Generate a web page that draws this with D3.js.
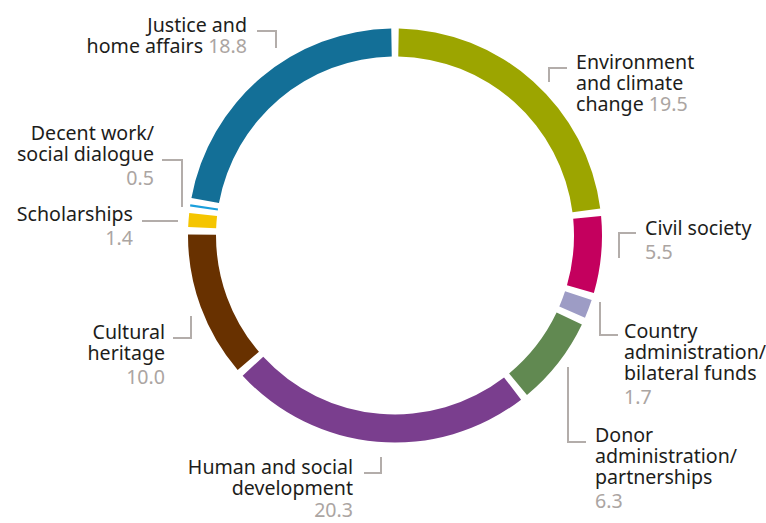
<!DOCTYPE html>
<html>
<head>
<meta charset="utf-8">
<script src="https://cdn.jsdelivr.net/npm/d3@7"></script>
<style>
  html, body { margin: 0; padding: 0; background: #fff; }
  svg { display: block; }
  text { font-family: "Noto Sans", "Open Sans", sans-serif; }
</style>
</head>
<body>
<svg id="chart" width="766" height="523"></svg>
<script>
// ---- data ----
const categories = [
  "Environment and climate change",
  "Civil society",
  "Country administration/bilateral funds",
  "Donor administration/partnerships",
  "Human and social development",
  "Cultural heritage",
  "Scholarships",
  "Decent work/social dialogue",
  "Justice and home affairs"
];
const values = [19.5, 5.5, 1.7, 6.3, 20.3, 10.0, 1.4, 0.5, 18.8];
const valueLabels = ["19.5", "5.5", "1.7", "6.3", "20.3", "10.0", "1.4", "0.5", "18.8"];
const colors = ["#9ca500", "#c4005e", "#9d9cc5", "#618951", "#7a3e8e", "#683100", "#f5c500", "#1a9fdc", "#136f97"];

// ---- label layout (annotation styling) ----
const labelLayout = [
  { lines: ["Environment", "and climate", "change"], inline: true, anchor: "start", x: 576, y: 69,
    bracket: [[549, 82], [549, 68], [567, 68]] },
  { lines: ["Civil society"], inline: false, anchor: "start", x: 645, y: 235,
    bracket: [[619, 258], [619, 233], [636, 233]] },
  { lines: ["Country", "administration/", "bilateral funds"], inline: false, anchor: "start", x: 624, y: 338,
    bracket: [[600, 302], [600, 335], [618, 335]] },
  { lines: ["Donor", "administration/", "partnerships"], inline: false, anchor: "start", x: 595, y: 442,
    bracket: [[568, 367], [568, 442], [586, 442]] },
  { lines: ["Human and social", "development"], inline: false, anchor: "end", x: 353, y: 474, valueGap: 0.5,
    bracket: [[381, 457], [381, 473], [364, 473]] },
  { lines: ["Cultural", "heritage"], inline: false, anchor: "end", x: 165, y: 339,
    bracket: [[191, 316], [191, 338], [173, 338]] },
  { lines: ["Scholarships"], inline: false, anchor: "end", x: 133, y: 221,
    bracket: [[142, 221], [178, 221]] },
  { lines: ["Decent work/", "social dialogue"], inline: false, anchor: "end", x: 154, y: 140,
    bracket: [[162, 160], [182, 160], [182, 207]] },
  { lines: ["Justice and", "home affairs"], inline: true, anchor: "end", x: 247, y: 32,
    bracket: [[257, 31], [276, 31], [276, 48]] }
];

const svg = d3.select("#chart");
const cx = 395, cy = 235.5, rOuter = 207, rInner = 179;
const gap = 7;          // white gap between segments, px
const minWidth = 2;     // minimum visible segment width, px
const rMid = (rOuter + rInner) / 2;

const pie = d3.pie().sort(null).value(d => d);
const arcs = pie(values);
const arcGen = d3.arc().innerRadius(rInner).outerRadius(rOuter);

const g = svg.append("g").attr("transform", `translate(${cx},${cy})`);
g.selectAll("path.seg")
  .data(arcs)
  .join("path")
  .attr("class", "seg")
  .attr("fill", (d, i) => colors[i])
  .attr("d", d => {
    let s = d.startAngle + (gap / 2) / rMid;
    let e = d.endAngle - (gap / 2) / rMid;
    if ((e - s) * rMid < minWidth) {
      const m = (d.startAngle + d.endAngle) / 2;
      s = m - (minWidth / 2) / rMid;
      e = m + (minWidth / 2) / rMid;
    }
    return arcGen({ startAngle: s, endAngle: e });
  });

// ---- labels ----
const fontSize = 19.6, lineH = 21;
const textColor = "#1d1d1b", valueColor = "#aba5a2", lineColor = "#b3adaa";

const line = d3.line();
labelLayout.forEach((L, i) => {
  svg.append("path")
    .attr("d", line(L.bracket))
    .attr("fill", "none")
    .attr("stroke", lineColor)
    .attr("stroke-width", 2);

  const t = svg.append("text")
    .attr("text-anchor", L.anchor)
    .attr("font-size", fontSize)
    .attr("fill", textColor);
  L.lines.forEach((ln, k) => {
    t.append("tspan").attr("x", L.x).attr("y", L.y + k * lineH).text(ln);
    if (L.inline && k === L.lines.length - 1) {
      t.append("tspan").attr("fill", valueColor).text(" " + valueLabels[i]);
    }
  });
  if (!L.inline) {
    const vg = L.valueGap !== undefined ? L.valueGap : 2.5;
    t.append("tspan")
      .attr("x", L.x)
      .attr("y", L.y + L.lines.length * lineH + vg)
      .attr("fill", valueColor)
      .text(valueLabels[i]);
  }
});
</script>
</body>
</html>
